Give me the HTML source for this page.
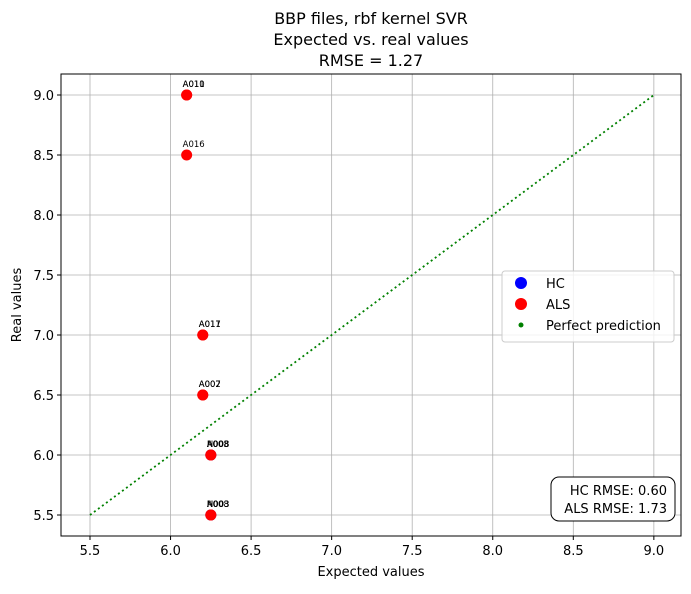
<!DOCTYPE html>
<html><head><meta charset="utf-8"><style>
body{margin:0;background:#fff;font-family:"Liberation Sans","DejaVu Sans",sans-serif;}
</style></head><body>
<svg id="chart" width="691" height="589" viewBox="0 0 691 589" xmlns="http://www.w3.org/2000/svg" font-family="DejaVu Sans, Liberation Sans, sans-serif">
<g id="grid"></g>
<g id="diag"></g>
<g id="pts"></g>
<rect x="61" y="74" width="620" height="462" fill="none" stroke="#000" stroke-width="1"/>
<g id="ticks"></g>
<g font-size="16" text-anchor="middle" fill="#000">
<text x="371" y="24">BBP files, rbf kernel SVR</text>
<text x="371" y="45">Expected vs. real values</text>
<text x="371" y="66">RMSE = 1.27</text>
</g>
<text x="371" y="576" font-size="13" text-anchor="middle">Expected values</text>
<text transform="translate(21,305) rotate(-90)" font-size="13" text-anchor="middle">Real values</text>
<g>
<rect x="502" y="271" width="172" height="71" rx="3" fill="#fff" fill-opacity="0.8" stroke="#ccc"/>
<circle cx="521" cy="283" r="6" fill="#0000ff"/>
<text x="546" y="288" font-size="13">HC</text>
<circle cx="521" cy="304" r="6" fill="#ff0000"/>
<text x="546" y="309" font-size="13">ALS</text>
<circle cx="521" cy="325" r="2.5" fill="#008000"/>
<text x="546" y="330" font-size="13">Perfect prediction</text>
</g>
<g>
<rect x="551" y="477" width="124" height="44" rx="8" fill="#fff" stroke="#000"/>
<text x="667" y="495" font-size="13" text-anchor="end">HC RMSE: 0.60</text>
<text x="667" y="513" font-size="13" text-anchor="end">ALS RMSE: 1.73</text>
</g>
</svg>
<script>
const xTicks=[5.5,6.0,6.5,7.0,7.5,8.0,8.5,9.0];
const yTicks=[5.5,6.0,6.5,7.0,7.5,8.0,8.5,9.0];
const alsX=[6.1,6.1,6.1,6.2,6.2,6.2,6.2,6.25,6.25,6.25,6.25];
const alsY=[9.0,9.0,8.5,7.0,7.0,6.5,6.5,6.0,6.0,5.5,5.5];
const alsLabels=["A010","A011","A016","A011","A017","A002","A007","A003","A008","N003","A008"];
const hcX=[6.25,6.25];
const hcY=[5.5,6.0];
const hcLabels=["N003","N008"];
const diagX=[5.5,9.0];
const ns="http://www.w3.org/2000/svg";
function sx(v){return 90+(v-5.5)*161.1;}
function sy(v){return 515-(v-5.5)*120;}
function mk(t,a,p){const e=document.createElementNS(ns,t);for(const k in a)e.setAttribute(k,a[k]);p.appendChild(e);return e;}
const grid=document.getElementById('grid'),ticks=document.getElementById('ticks');
xTicks.forEach(v=>{
 const l=mk('line',{x1:sx(v),x2:sx(v),y1:74,y2:536,stroke:'#b0b0b0','stroke-width':0.8},grid);
 
 
 mk('line',{x1:sx(v),x2:sx(v),y1:536,y2:540,stroke:'#000'},ticks);
 const t=mk('text',{x:sx(v),y:555,'font-size':13,'text-anchor':'middle'},ticks);t.textContent=v.toFixed(1);
 
 
});
yTicks.forEach(v=>{
 const l=mk('line',{x1:61,x2:681,y1:sy(v),y2:sy(v),stroke:'#b0b0b0','stroke-width':0.8},grid);
 
 
 mk('line',{x1:57,x2:61,y1:sy(v),y2:sy(v),stroke:'#000'},ticks);
 const t=mk('text',{x:54,y:sy(v)+5,'font-size':13,'text-anchor':'end'},ticks);t.textContent=v.toFixed(1);
 
 
});
const d=mk('line',{x1:sx(diagX[0]),y1:sy(diagX[0]),x2:sx(diagX[1]),y2:sy(diagX[1]),stroke:'#008000','stroke-width':1.8,'stroke-dasharray':'2,3'},document.getElementById('diag'));


const pts=document.getElementById('pts');
hcX.forEach((v,i)=>{
 const c=mk('circle',{cx:sx(v),cy:sy(hcY[i]),r:5.5,fill:'#0000ff'},pts);
 
 
 const t=mk('text',{x:sx(v)-4,y:sy(hcY[i])-8,'font-size':8.5},pts);t.textContent=hcLabels[i];
 
 
});
alsX.forEach((v,i)=>{
 const c=mk('circle',{cx:sx(v),cy:sy(alsY[i]),r:5.5,fill:'#ff0000'},pts);
 
 
 const t=mk('text',{x:sx(v)-4,y:sy(alsY[i])-8,'font-size':8.5},pts);t.textContent=alsLabels[i];
 
 
});
</script>
</body></html>
